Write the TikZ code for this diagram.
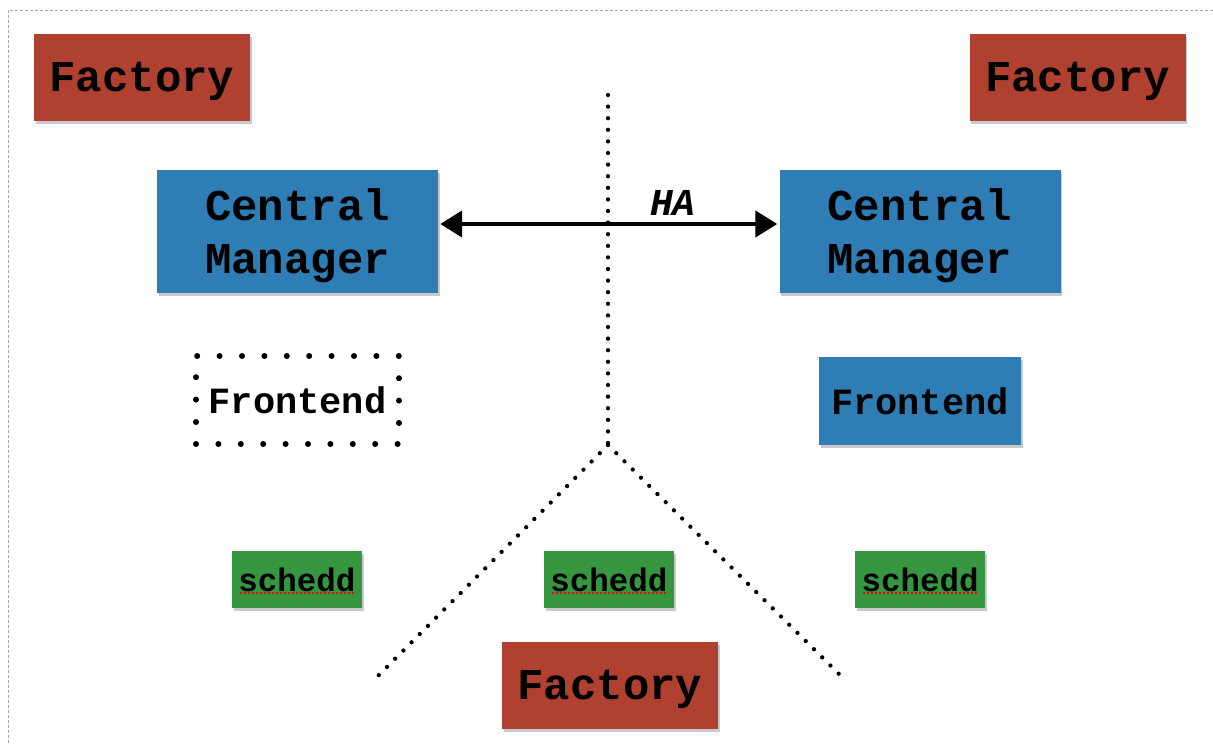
\documentclass[tikz,border=0pt]{standalone}
\usepackage{fontspec}
\newfontfamily\cour{Liberation Mono}
\usetikzlibrary{shadows,arrows.meta}
\definecolor{facred}{RGB}{176,64,48}
\definecolor{cmblue}{RGB}{46,125,181}
\definecolor{schgreen}{RGB}{54,151,64}
\tikzset{
  box/.style={inner sep=0pt, align=center, text=black,
    drop shadow={shadow xshift=1.5pt, shadow yshift=-3pt, opacity=0.35, fill=black!60}},
  factorybox/.style={box, fill=facred, minimum width=216pt, minimum height=87pt,
    text height=37pt, text depth=9pt,
    font=\cour\bfseries\fontsize{44}{53}\selectfont},
  cmbox/.style={box, fill=cmblue, minimum width=281pt, minimum height=123pt,
    text depth=0pt,
    font=\cour\bfseries\fontsize{44}{53}\selectfont},
  febox/.style={box, fill=cmblue, minimum width=202pt, minimum height=88pt,
    font=\cour\bfseries\fontsize{37}{44}\selectfont},
  fedotted/.style={inner sep=0pt, minimum width=203pt, minimum height=88pt,
    draw=black, line width=6pt, line cap=round, dash pattern=on 0pt off 22.4pt,
    font=\cour\bfseries\fontsize{37}{44}\selectfont},
  schbox/.style={box, fill=schgreen, minimum width=130pt, minimum height=57pt,
    font=\cour\bfseries\fontsize{32.5}{39}\selectfont},
  dotline/.style={line width=4.3pt, line cap=round, dash pattern=on 0pt off 11.6pt},
  spell/.style={red, line width=2pt, dash pattern=on 2pt off 2pt},
  frame/.style={gray!70, line width=0.8pt, dash pattern=on 3pt off 2pt}
}
\begin{document}
\begin{tikzpicture}[x=1pt,y=-1pt]
\useasboundingbox (0,0) rectangle (1213,744);
\fill[white] (0,0) rectangle (1213,744);
\draw[frame] (1213,10) -- (8,10) -- (8,744);

% dotted separators
\coordinate (top) at (608,95);
\coordinate (fork) at (608,445);
\coordinate (bl) at (376,678);
\coordinate (br) at (845,680);
\draw[dotline] (top) -- (fork);
\draw[dotline] (fork) -- (bl);
\draw[dotline] (fork) -- (br);

\node[factorybox] (f1) at (142,77.5) {Factory};
\node[factorybox] (f2) at (1077.5,77.5) {Factory};
\node[factorybox] (f3) at (610,685.5) {Factory};

\node[cmbox] (cm1) at (297.5,231.5) {Central\\Manager};
\node[cmbox] (cm2) at (920,231.5) {Central\\Manager};

\node[fedotted] (fe1) at (297.5,400) {Frontend};
\node[febox] (fe2) at (920,401) {Frontend};

\node[schbox] (s1) at (297,579.5) {schedd};
\node[schbox] (s2) at (609,579.5) {schedd};
\node[schbox] (s3) at (920,579.5) {schedd};
\foreach \s in {s1,s2,s3}{
  \draw[spell] ([xshift=-57pt,yshift=-13pt]\s.center) -- ([xshift=57pt,yshift=-13pt]\s.center);
}

\draw[line width=4.5pt, {Triangle[length=22pt,width=26pt]}-{Triangle[length=22pt,width=26pt]}]
  ([yshift=7.5pt,xshift=2pt]cm1.east) -- ([yshift=7.5pt,xshift=-2pt]cm2.west)
  node[pos=0.69, above=3pt, font=\cour\bfseries\itshape\fontsize{38}{44}\selectfont] (ha) {HA};
\end{tikzpicture}
\end{document}
